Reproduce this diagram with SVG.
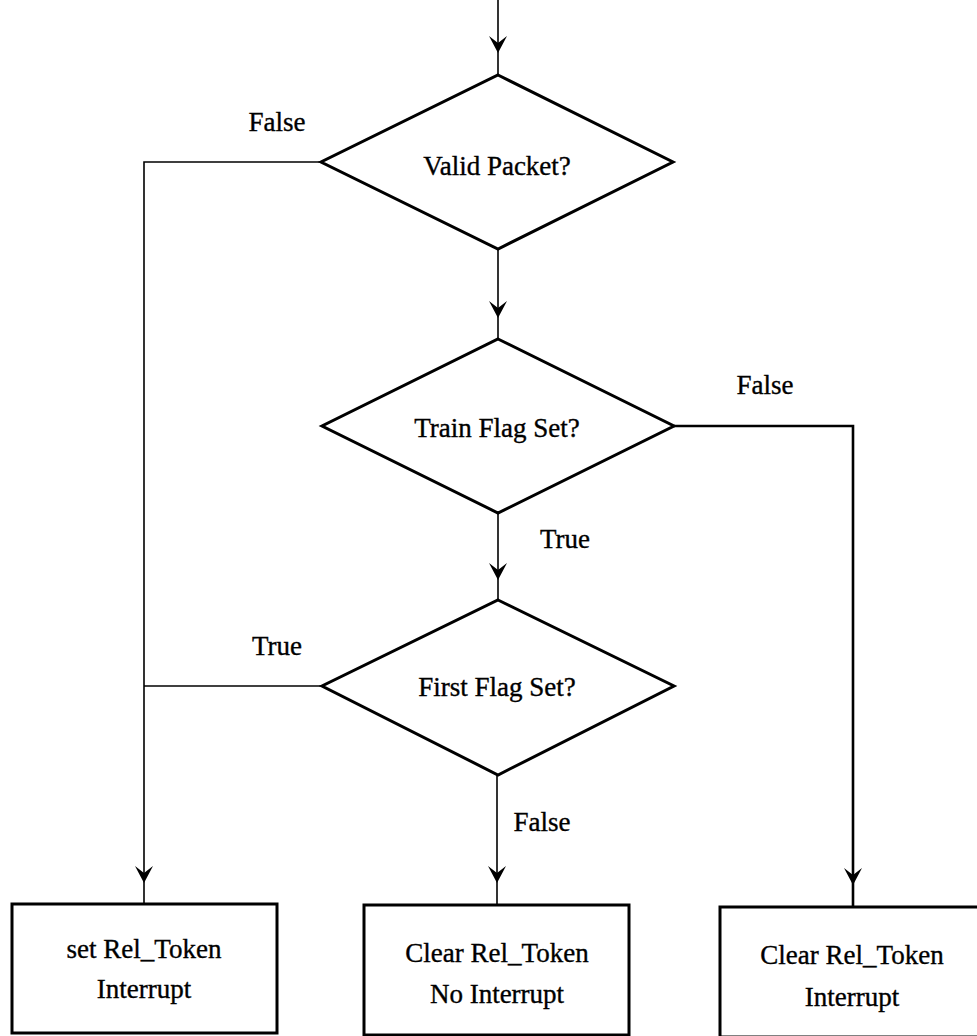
<svg xmlns="http://www.w3.org/2000/svg" width="977" height="1036" viewBox="0 0 977 1036">
  <defs>
    <style>
      .shape { fill: none; stroke: #000; stroke-width: 3; stroke-linejoin: miter; }
      .box { fill: #fff; stroke: #000; stroke-width: 3; }
      .wire { fill: none; stroke: #000; stroke-width: 1.6; }
      .wire-heavy { fill: none; stroke: #000; stroke-width: 2.6; }
      .label { font-family: "Liberation Serif", "Times New Roman", serif; font-size: 27px; fill: #000; stroke: #000; stroke-width: 0.35; text-anchor: middle; }
    </style>
    <!-- downward arrowhead, tip at origin -->
    <path id="head" d="M0,0 L-9,-17 L0,-10 L9,-17 Z" fill="#000"/>
  </defs>

  <rect width="977" height="1036" fill="#fff"/>

  <!-- connectors -->
  <g id="connectors">
    <!-- entry -->
    <line class="wire" x1="498" y1="0" x2="498" y2="75"/>
    <use href="#head" x="498" y="53"/>
    <!-- Valid Packet? -> Train Flag Set? -->
    <line class="wire" x1="498" y1="249" x2="498" y2="339"/>
    <use href="#head" x="498" y="318"/>
    <!-- Valid Packet? False -> set Rel_Token -->
    <polyline class="wire" points="321,162 144,162 144,904"/>
    <use href="#head" x="144" y="883"/>
    <!-- Train Flag Set? False -> Clear Rel_Token / Interrupt -->
    <polyline class="wire-heavy" points="674,426 853,426 853,907"/>
    <use href="#head" x="853" y="885"/>
    <!-- Train Flag Set? True -> First Flag Set? -->
    <line class="wire" x1="498" y1="513" x2="498" y2="600"/>
    <use href="#head" x="498" y="580"/>
    <!-- First Flag Set? True -> join left line -->
    <line class="wire" x1="144" y1="686" x2="322" y2="686"/>
    <!-- First Flag Set? False -> Clear Rel_Token / No Interrupt -->
    <line class="wire" x1="497" y1="775" x2="497" y2="905"/>
    <use href="#head" x="497" y="883"/>

    <text class="label" x="277" y="131">False</text>
    <text class="label" x="765" y="394">False</text>
    <text class="label" x="565" y="548">True</text>
    <text class="label" x="277" y="655">True</text>
    <text class="label" x="542" y="831">False</text>
  </g>

  <g id="valid-packet">
    <polygon class="shape" points="498,75 673,162 498,249 321,162"/>
    <text class="label" x="497" y="175">Valid Packet?</text>
  </g>

  <g id="train-flag">
    <polygon class="shape" points="498,339 674,426 498,513 322,426"/>
    <text class="label" x="497" y="437">Train Flag Set?</text>
  </g>

  <g id="first-flag">
    <polygon class="shape" points="498,600 674,686 498,775 322,686"/>
    <text class="label" x="497" y="696">First Flag Set?</text>
  </g>

  <g id="set-token">
    <rect class="box" x="12" y="904" width="265" height="129"/>
    <text class="label" x="144" y="958">set Rel_Token</text>
    <text class="label" x="144" y="998">Interrupt</text>
  </g>

  <g id="clear-no-interrupt">
    <rect class="box" x="364" y="905" width="265" height="130"/>
    <text class="label" x="497" y="962">Clear Rel_Token</text>
    <text class="label" x="497" y="1003">No Interrupt</text>
  </g>

  <g id="clear-interrupt">
    <rect class="box" x="720" y="907" width="266" height="130"/>
    <text class="label" x="852" y="964">Clear Rel_Token</text>
    <text class="label" x="852" y="1006">Interrupt</text>
  </g>
</svg>
